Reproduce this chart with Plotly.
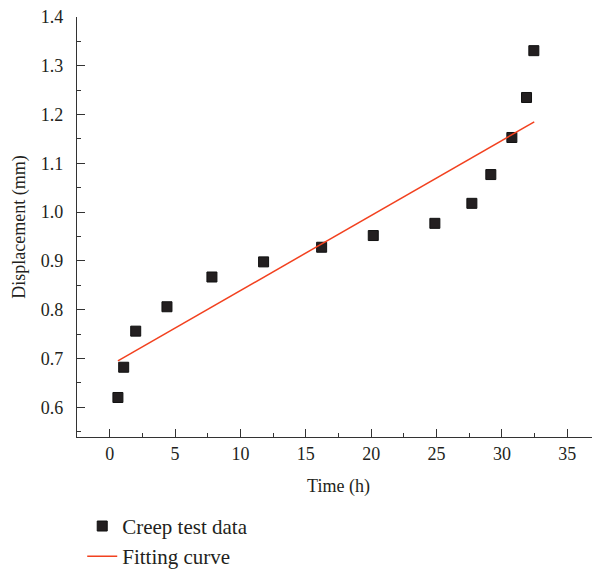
import plotly.graph_objects as go

# Creep test data
time_h = [0.63, 1.07, 1.99, 4.38, 7.82, 11.77, 16.21, 20.16, 24.87, 27.70, 29.15, 30.76, 31.88, 32.44]
displacement_mm = [0.620, 0.682, 0.756, 0.806, 0.867, 0.898, 0.928, 0.952, 0.977, 1.018, 1.077, 1.153, 1.235, 1.331]

# Fitting curve (straight line endpoints)
fit_time = [0.63, 32.47]
fit_disp = [0.695, 1.185]

x_ticks = [0, 5, 10, 15, 20, 25, 30, 35]
y_ticks = [0.6, 0.7, 0.8, 0.9, 1.0, 1.1, 1.2, 1.3, 1.4]

FONT = "Liberation Serif, Times New Roman, serif"
AXIS_COLOR = "#333333"
TEXT_COLOR = "#231f20"

fig = go.Figure()
fig.add_trace(go.Scatter(
    x=time_h, y=displacement_mm, mode="markers", name="Creep test data",
    marker=dict(symbol="square", size=10, color="#231f20",
                line=dict(color="#111111", width=1)),
    legend="legend",
))
fig.add_trace(go.Scatter(
    x=fit_time, y=fit_disp, mode="lines", name="Fitting curve",
    line=dict(color="#f2411f", width=1.5),
    legend="legend2",
))

axis_common = dict(
    showline=True, linecolor=AXIS_COLOR, linewidth=1.3,
    ticks="inside", ticklen=8, tickwidth=1.2, tickcolor=AXIS_COLOR,
    showgrid=False, zeroline=False, mirror=False, automargin=False,
    ticklabeloverflow="allow",
    tickfont=dict(family=FONT, size=18, color=TEXT_COLOR),
    title_font=dict(family=FONT, size=18, color=TEXT_COLOR),
)

fig.update_xaxes(
    range=[-2.5, 37.5], tickvals=x_ticks, ticktext=[str(v) for v in x_ticks],
    title_text="Time (h)", title_standoff=16, ticklabelstandoff=0,
    minor=dict(ticks="inside", ticklen=4, tickcolor=AXIS_COLOR, dtick=2.5, tick0=0, showgrid=False),
    **axis_common,
)
fig.update_yaxes(
    range=[0.539, 1.4], tickvals=y_ticks, ticktext=[f"{v:.1f}" for v in y_ticks],
    title_text="Displacement (mm)", title_standoff=10, ticklabelstandoff=9,
    minor=dict(ticks="inside", ticklen=4, tickcolor=AXIS_COLOR, dtick=0.05, tick0=0.6, showgrid=False),
    **axis_common,
)

legend_font = dict(family=FONT, size=21, color=TEXT_COLOR)
# the page body adds an 8px offset, so the figure is sized 8px smaller
fig.update_layout(
    width=592, height=565,
    margin=dict(l=69, r=0, t=9, b=136, autoexpand=False),
    plot_bgcolor="white", paper_bgcolor="white",
    showlegend=True,
    legend=dict(x=0.010, y=-0.164, xanchor="left", yanchor="top", font=legend_font,
                bgcolor="rgba(0,0,0,0)"),
    legend2=dict(x=0.010, y=-0.236, xanchor="left", yanchor="top", font=legend_font,
                 bgcolor="rgba(0,0,0,0)"),
)

fig.write_html("out.html")
